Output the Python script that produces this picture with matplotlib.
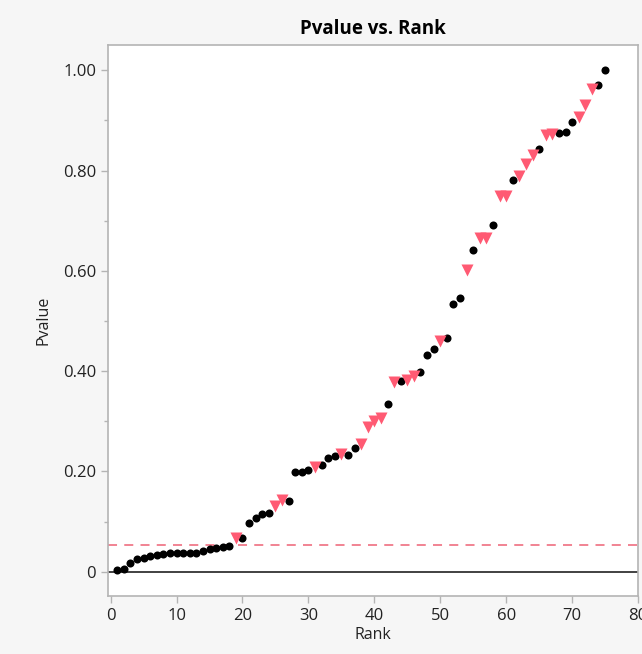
import matplotlib
matplotlib.use("Agg")
import matplotlib.pyplot as plt
from matplotlib.ticker import MultipleLocator, FuncFormatter

plt.rcParams["font.family"] = ["Open Sans", "DejaVu Sans"]

# rank 1..75, pvalue, and whether the point is flagged (pink triangle)
rank = list(range(1, 76))
pvalue = [
    0.003, 0.005, 0.018, 0.025, 0.027, 0.032, 0.033, 0.035, 0.037, 0.037,
    0.037, 0.037, 0.038, 0.041, 0.045, 0.047, 0.049, 0.052, 0.068, 0.067,
    0.098, 0.108, 0.116, 0.118, 0.130, 0.142, 0.140, 0.198, 0.199, 0.202,
    0.209, 0.213, 0.226, 0.230, 0.234, 0.233, 0.246, 0.255, 0.289, 0.301,
    0.307, 0.335, 0.378, 0.380, 0.383, 0.390, 0.399, 0.433, 0.445, 0.460,
    0.466, 0.534, 0.546, 0.602, 0.642, 0.665, 0.665, 0.691, 0.749, 0.749,
    0.782, 0.789, 0.814, 0.831, 0.844, 0.870, 0.872, 0.874, 0.876, 0.896,
    0.906, 0.931, 0.962, 0.971, 1.000,
]
flagged = [
    0, 0, 0, 0, 0, 0, 0, 0, 0, 0,
    0, 0, 0, 0, 0, 0, 0, 0, 1, 0,
    0, 0, 0, 0, 1, 1, 0, 0, 0, 0,
    1, 0, 0, 0, 1, 0, 0, 1, 1, 1,
    1, 0, 1, 0, 1, 1, 0, 0, 0, 1,
    0, 0, 0, 1, 0, 1, 1, 0, 1, 1,
    0, 1, 1, 1, 0, 1, 1, 0, 0, 0,
    1, 1, 1, 0, 0,
]
threshold = 0.053

fig = plt.figure(figsize=(6.42, 6.54), dpi=100, facecolor="#f6f6f6")
ax = fig.add_axes([0.1682, 0.0887, 0.8256, 0.8425])
ax.set_facecolor("white")

ax.axhline(0, color="#333333", lw=1.3, zorder=1)
ax.axhline(threshold, color="#f07a8a", lw=1.3, ls=(0, (5, 4)), zorder=1)

xr = [r for r, f in zip(rank, flagged) if not f]
yr = [p for p, f in zip(pvalue, flagged) if not f]
xf = [r for r, f in zip(rank, flagged) if f]
yf = [p for p, f in zip(pvalue, flagged) if f]
ax.plot(xr, yr, "o", color="black", ms=5.8, mec="none", zorder=3)
ax.plot(xf, yf, "v", color="#ff5a73", ms=8.4, mec="none", zorder=3)

ax.set_xlim(-0.4, 80)
ax.set_ylim(-0.0485, 1.0505)
ax.xaxis.set_major_locator(MultipleLocator(10))
ax.yaxis.set_major_locator(MultipleLocator(0.2))
ax.yaxis.set_minor_locator(MultipleLocator(0.1))
ax.yaxis.set_major_formatter(FuncFormatter(lambda v, _: "0" if abs(v) < 1e-9 else f"{v:.2f}"))

for s in ax.spines.values():
    s.set_color("#b4b4b4")
    s.set_linewidth(1.2)
ax.tick_params(which="major", length=5, width=1, color="#b4b4b4", labelsize=12, labelcolor="#222222")
ax.tick_params(which="minor", length=3, width=1, color="#b4b4b4")

ax.set_title("Pvalue vs. Rank", fontsize=13.5, fontweight="bold", pad=8)
ax.set_xlabel("Rank", fontsize=11.5, color="#222222", labelpad=2)
ax.set_ylabel("Pvalue", fontsize=11.5, color="#222222", labelpad=8)

fig.savefig("out.png", dpi=100, facecolor=fig.get_facecolor())
